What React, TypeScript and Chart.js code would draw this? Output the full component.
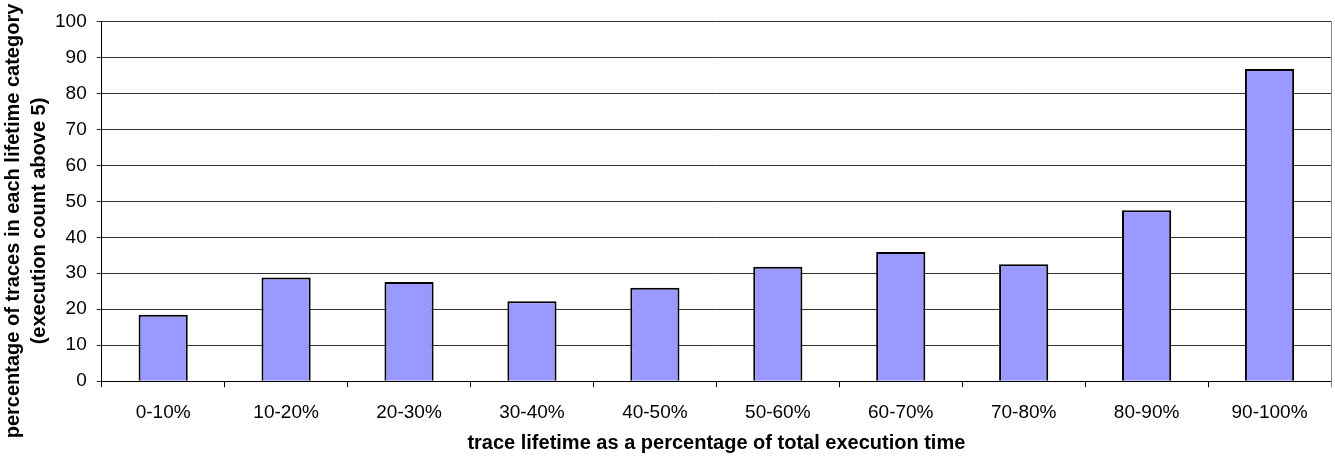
import React, { useEffect, useRef } from "react";
import { Chart, registerables } from "chart.js";

Chart.register(...registerables);

const categories = ["0-10%", "10-20%", "20-30%", "30-40%", "40-50%", "50-60%", "60-70%", "70-80%", "80-90%", "90-100%"];
const values = [18.5, 28.8, 27.6, 22.2, 26.0, 31.8, 35.9, 32.5, 47.5, 86.8];
const yTitle = ["percentage of traces in each lifetime category", "(execution count above 5)"];
const xTitle = "trace lifetime as a percentage of total execution time";

const FONT = "'Liberation Sans', Arial, sans-serif";

const extras = {
  id: "extras",
  afterDraw(chart: any) {
    const { ctx, chartArea } = chart;
    ctx.save();
    // right frame line
    ctx.strokeStyle = "#888";
    ctx.lineWidth = 1;
    ctx.beginPath();
    ctx.moveTo(Math.round(chartArea.right) + 0.5, chartArea.top);
    ctx.lineTo(Math.round(chartArea.right) + 0.5, chartArea.bottom + 6);
    ctx.stroke();
    // axis titles
    ctx.fillStyle = "#000";
    ctx.font = `bold 20px ${FONT}`;
    ctx.textAlign = "center";
    ctx.textBaseline = "middle";
    ctx.fillText(xTitle, (chartArea.left + chartArea.right) / 2, 443);
    ctx.translate(0, 221);
    ctx.rotate(-Math.PI / 2);
    ctx.fillText(yTitle[0], 0, 13);
    ctx.fillText(yTitle[1], 0, 39);
    ctx.restore();
  },
};

export default function App() {
  const ref = useRef<HTMLCanvasElement>(null);
  useEffect(() => {
    document.body.style.margin = "0";
    const chart = new Chart(ref.current!, {
      type: "bar",
      data: {
        labels: categories,
        datasets: [
          {
            data: values,
            backgroundColor: "#9999FF",
            borderColor: "#000000",
            borderWidth: 2,
            barPercentage: 0.4,
            categoryPercentage: 1,
          },
        ],
      },
      plugins: [extras],
      options: {
        animation: false,
        responsive: false,
        maintainAspectRatio: false,
        layout: { padding: { left: 45, right: 4, top: 21, bottom: 18 } },
        plugins: { legend: { display: false }, tooltip: { enabled: false } },
        scales: {
          x: {
            grid: { drawOnChartArea: false, drawTicks: true, tickLength: 6, color: "#000", offset: true },
            border: { color: "#000", width: 1 },
            ticks: { color: "#000", font: { family: FONT, size: 19, lineHeight: 1.2 }, padding: 14, maxRotation: 0 },
          },
          y: {
            min: 0,
            max: 100,
            ticks: { stepSize: 10, color: "#000", font: { family: FONT, size: 19, lineHeight: 1.2 }, padding: 10 },
            grid: { color: "#333", lineWidth: 1, tickLength: 5, drawTicks: true },
            border: { color: "#000", width: 1 },
          },
        },
      },
    });
    return () => chart.destroy();
  }, []);
  return (
    <div style={{ position: "absolute", left: 0, top: 0, width: 1335, height: 456, background: "#fff" }}>
      <canvas ref={ref} width={1335} height={456} />
    </div>
  );
}
